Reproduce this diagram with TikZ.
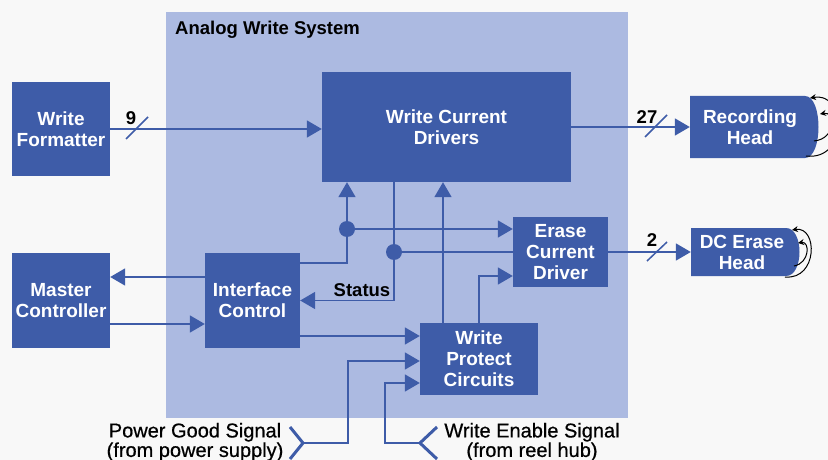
\documentclass[tikz,border=0pt]{standalone}
\usepackage{fontspec}
\setmainfont{Liberation Sans}
\newfontfamily\medfont[FakeBold=0.6]{Liberation Sans}
\usetikzlibrary{arrows.meta}

\definecolor{paper}{RGB}{248,248,248}
\definecolor{panelblue}{RGB}{172,186,225}
\definecolor{boxblue}{RGB}{62,92,168}

\begin{document}
\begin{tikzpicture}[x=1pt,y=-1pt,
		box/.style={rectangle,fill=boxblue,text=white,inner sep=0pt,align=center,
			font=\bfseries\fontsize{19}{21}\selectfont},
		headtext/.style={inner sep=0pt,text=white,align=center,
			font=\bfseries\fontsize{19}{21}\selectfont},
		lbl/.style={inner sep=0pt,text=black,font=\bfseries\fontsize{18.5}{21}\selectfont},
		sigtext/.style={inner sep=0pt,align=center,font=\medfont\fontsize{20}{19.5}\selectfont},
		sig/.style={draw=boxblue,line width=1.8pt,-{Triangle[length=15pt,width=17pt]}},
		wire/.style={draw=boxblue,line width=1.8pt},
		bus/.style={draw=boxblue,line width=1.5pt},
		chev/.style={draw=boxblue,line width=3pt},
		flux/.style={draw=black,line width=1pt,-{Stealth[length=6pt,width=6pt]}}]
	\useasboundingbox (0,0) rectangle (828,460);
	\clip (0,0) rectangle (828,460);
	\fill[paper] (0,0) rectangle (828,460);
	\fill[panelblue] (166,12) rectangle (628,418);
	\node[lbl,anchor=west] (title) at (175,30) {Analog Write System};

	% blocks
	\node[box,minimum width=98pt,minimum height=94pt] (formatter) at (61,129) {Write\\Formatter};
	\node[box,minimum width=249pt,minimum height=110pt] (drivers) at (446.5,127) {Write Current\\Drivers};
	\node[box,minimum width=95pt,minimum height=70pt] (erase) at (560.5,252) {Erase\\Current\\Driver};
	\node[box,minimum width=98pt,minimum height=95pt] (master) at (61,300.5) {Master\\Controller};
	\node[box,minimum width=95pt,minimum height=95pt] (iface) at (252.5,300.5) {Interface\\Control};
	\node[box,minimum width=118pt,minimum height=72pt] (protect) at (479,359) {Write\\Protect\\Circuits};

	% heads
	\fill[boxblue] (690,96) -- (805,96) .. controls (823,96) and (823,158) .. (805,158) -- (690,158) -- cycle;
	\fill[boxblue] (691,228) -- (786,228) .. controls (804,228) and (804,276) .. (786,276) -- (691,276) -- cycle;
	\node[headtext,minimum width=120pt,minimum height=62pt] (rechead) at (750,127) {Recording\\Head};
	\node[headtext,minimum width=102pt,minimum height=48pt] (dchead) at (742,252) {DC Erase\\Head};
	\draw[flux] (806,156) .. controls (848,161) and (848,92) .. (810,98);
	\draw[flux] (814,141) .. controls (836,139) and (836,111) .. (820,114);
	\draw[flux] (785,277) .. controls (818,280) and (818,226) .. (792,230);
	\draw[flux] (794,266) .. controls (810,263) and (810,241) .. (798,243);

	% junctions and inputs
	\coordinate (j1) at (347,229);
	\coordinate (j2) at (394,252);
	\coordinate (pg) at (303,443);
	\coordinate (we) at (420,443);

	% connections
	\draw[sig] (formatter.east) -- (formatter.east -| drivers.west);
	\draw[bus] (126,139) -- (148,117);
	\node[lbl] (n9) at (131,118) {9};
	\draw[sig] (drivers.east |- rechead.west) -- (rechead.west);
	\draw[bus] (645,137) -- (667,115);
	\node[lbl] (n27) at (647,117) {27};
	\draw[sig] (erase.east) -- (dchead.west);
	\draw[bus] (647,261) -- (667,242);
	\node[lbl] (n2) at (652,240) {2};

	\draw[sig] (iface.west |- 0,277) -- (master.east |- 0,277);
	\draw[sig] (master.east |- 0,324) -- (iface.west |- 0,324);
	\draw[sig] (iface.east |- 0,336) -- (protect.west |- 0,336);

	\draw[wire] (iface.east |- 0,263) -| (j1);
	\draw[sig] (j1) -- (j1 |- drivers.south);
	\draw[sig] (j1) -- (j1 -| erase.west);
	\draw[wire] (j2 |- drivers.south) -- (j2);
	\draw[wire] (erase.west |- j2) -- (j2);
	\draw[sig] (j2) |- (iface.east);
	\fill[boxblue] (j1) circle[radius=8pt];
	\fill[boxblue] (j2) circle[radius=8pt];
	\node[lbl] (status) at (362,290) {Status};

	\draw[sig] (protect.north -| 443,0) -- (drivers.south -| 443,0);
	\draw[sig] (protect.north) |- (erase.west |- 0,276);

	\draw[sig] (pg) -- (348,443) |- (protect.west |- 0,361);
	\draw[sig] (we) -- (385,443) |- (protect.west |- 0,383);
	\draw[chev] (290,427) -- (pg) -- (290,459);
	\draw[chev] (437,427) -- (we) -- (437,459);
	\node[sigtext] (pgtext) at (195,442) {Power Good Signal\\(from power supply)};
	\node[sigtext] (wetext) at (532,442) {Write Enable Signal\\(from reel hub)};
\end{tikzpicture}
\end{document}
